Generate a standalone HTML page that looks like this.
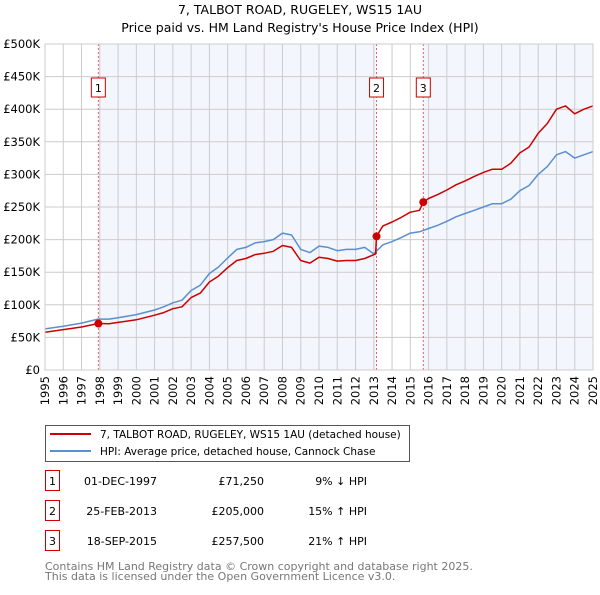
<!DOCTYPE html>
<html><head><meta charset="utf-8"><style>
body{margin:0;background:#fff;font-family:"Liberation Sans","DejaVu Sans",sans-serif;}
svg text{font-family:"DejaVu Sans","Liberation Sans",sans-serif;}
</style></head><body>
<svg id="chart" width="600" height="590" xmlns="http://www.w3.org/2000/svg">
<text x="300" y="14" text-anchor="middle" font-size="12.5">7, TALBOT ROAD, RUGELEY, WS15 1AU</text>
<text x="300" y="32" text-anchor="middle" font-size="12.5">Price paid vs. HM Land Registry's House Price Index (HPI)</text>
<g id="plot"></g>
<g>
<rect x="45.5" y="425.5" width="364" height="36" fill="#fff" stroke="#555"/>
<line x1="50" y1="434" x2="91" y2="434" stroke="#cc0000" stroke-width="2"/>
<text x="100" y="438" font-size="10.5">7, TALBOT ROAD, RUGELEY, WS15 1AU (detached house)</text>
<line x1="50" y1="451" x2="91" y2="451" stroke="#5b8fd0" stroke-width="2"/>
<text x="100" y="455" font-size="10.5">HPI: Average price, detached house, Cannock Chase</text>
</g>
<g id="table" font-size="11"></g>
<text x="45" y="570" font-size="11" fill="#777">Contains HM Land Registry data © Crown copyright and database right 2025.</text>
<text x="45" y="580" font-size="11" fill="#777">This data is licensed under the Open Government Licence v3.0.</text>
</svg>
<script>
const yTicks=[0,50000,100000,150000,200000,250000,300000,350000,400000,450000,500000];
const yTickLabels=["£0","£50K","£100K","£150K","£200K","£250K","£300K","£350K","£400K","£450K","£500K"];
const years=[1995,1996,1997,1998,1999,2000,2001,2002,2003,2004,2005,2006,2007,2008,2009,2010,2011,2012,2013,2014,2015,2016,2017,2018,2019,2020,2021,2022,2023,2024,2025];
const hpiT=[1995,1996,1997,1997.9,1998.5,1999,2000,2001,2001.5,2002,2002.5,2003,2003.5,2004,2004.5,2005,2005.5,2006,2006.5,2007,2007.5,2008,2008.5,2009,2009.5,2010,2010.5,2011,2011.5,2012,2012.5,2013,2013.5,2014,2014.5,2015,2015.5,2016,2016.5,2017,2017.5,2018,2018.5,2019,2019.5,2020,2020.5,2021,2021.5,2022,2022.5,2023,2023.5,2024,2024.5,2025];
const hpiV=[63,67,72,78,78,80,85,92,97,103,107,122,130,148,158,172,185,188,195,197,200,210,207,185,180,190,188,183,185,185,188,178,192,197,203,210,212,217,222,228,235,240,245,250,255,255,262,275,283,300,312,330,335,325,330,335];
const priceT=[1995,1996,1997,1997.92,1998.5,1999,2000,2001,2001.5,2002,2002.5,2003,2003.5,2004,2004.5,2005,2005.5,2006,2006.5,2007,2007.5,2008,2008.5,2009,2009.5,2010,2010.5,2011,2011.5,2012,2012.5,2013.1,2013.15,2013.5,2014,2014.5,2015,2015.5,2015.71,2016,2016.5,2017,2017.5,2018,2018.5,2019,2019.5,2020,2020.5,2021,2021.5,2022,2022.5,2023,2023.5,2024,2024.5,2025];
const priceV=[58,62,66,71.25,71,73,77,84,88,94,97,111,118,135,144,157,168,171,177,179,182,191,188,168,164,173,171,167,168,168,171,178,205,221,227,234,242,245,257.5,263,269,276,284,290,297,303,308,308,317,333,342,363,378,400,405,393,400,405];
const saleNums=["1","2","3"];
const saleT=[1997.92,2013.15,2015.71];
const saleV=[71250,205000,257500];
const saleDates=["01-DEC-1997","25-FEB-2013","18-SEP-2015"];
const salePrices=["£71,250","£205,000","£257,500"];
const saleHpi=["9% ↓ HPI","15% ↑ HPI","21% ↑ HPI"];

const X0=45,X1=593,Y0=370,Y1=44;
const x=t=>X0+(t-1995)/30*(X1-X0);
const y=v=>Y0-v/500000*(Y0-Y1);
const NS="http://www.w3.org/2000/svg";
const plot=document.getElementById('plot');
function mk(tag,attrs,parent){const e=document.createElementNS(NS,tag);for(const k in attrs)e.setAttribute(k,attrs[k]);(parent||plot).appendChild(e);return e;}
let bg=mk('rect',{x:X0,y:Y1,width:X1-X0,height:Y0-Y1,fill:'#f3f6fd'});


let w1=mk('rect',{x:X0,y:Y1,width:x(saleT[0])-X0,height:Y0-Y1,fill:'#fff'});


let w2=mk('rect',{x:x(saleT[1]),y:Y1,width:x(saleT[2])-x(saleT[1]),height:Y0-Y1,fill:'#fff'});


yTicks.forEach((v,i)=>{
 let l=mk('line',{x1:X0,x2:X1,y1:y(v),y2:y(v),stroke:'#cccccc','stroke-width':1});
 
 
 let t=mk('text',{x:40,y:y(v)+4,'text-anchor':'end','font-size':'11.5'});
 t.textContent=yTickLabels[i];
 
 
});
years.forEach(yr=>{
 let l=mk('line',{x1:x(yr),x2:x(yr),y1:Y1,y2:Y0,stroke:'#cccccc','stroke-width':1});
 
 
 let t=mk('text',{x:0,y:0,'text-anchor':'end','font-size':'11.5',transform:`translate(${x(yr)+4},376) rotate(-90)`});
 t.textContent=yr;
 
 
});
saleT.forEach((t,i)=>{
 let l=mk('line',{x1:x(t),x2:x(t),y1:Y1,y2:Y0,stroke:'#e06060','stroke-width':1,'stroke-dasharray':'2,2'});
 
 
 let r=mk('rect',{x:x(t)-7,y:78,width:14,height:19,fill:'#fff',stroke:'#cc0000'});
 
 
 let tx=mk('text',{x:x(t),y:92,'text-anchor':'middle','font-size':'11'});
 tx.textContent=saleNums[i];
 
 
});
function line(T,V,color,name){
 const d=T.map((t,i)=>(i?'L':'M')+x(t).toFixed(1)+','+y(V[i]*1000).toFixed(1)).join('');
 let p=mk('path',{d:d,fill:'none',stroke:color,'stroke-width':1.5,'stroke-linejoin':'round'});
 
 
}
line(hpiT,hpiV,'#5b8fd0','hpi-line');
line(priceT,priceV,'#cc0000','price-paid-line');
saleT.forEach((t,i)=>{
 let c=mk('circle',{cx:x(t),cy:y(saleV[i]),r:4,fill:'#cc0000'});
 
 
});
let ax=mk('rect',{x:X0,y:Y1,width:X1-X0,height:Y0-Y1,fill:'none',stroke:'#cccccc'});


const tb=document.getElementById('table');
saleNums.forEach((n,i)=>{
 const cy=483+i*30;
 let r=mk('rect',{x:45.5,y:cy-12.5,width:14,height:20,fill:'#fff',stroke:'#cc0000'},tb);
 
 
 let a=mk('text',{x:52.5,y:cy+2,'text-anchor':'middle'},tb);a.textContent=n;
 
 
 let b=mk('text',{x:157,y:cy+2,'text-anchor':'end'},tb);b.textContent=saleDates[i];
 
 
 let c=mk('text',{x:264,y:cy+2,'text-anchor':'end'},tb);c.textContent=salePrices[i];
 
 
 let d=mk('text',{x:367,y:cy+2,'text-anchor':'end'},tb);d.textContent=saleHpi[i];
 
 
});
</script>
</body></html>
